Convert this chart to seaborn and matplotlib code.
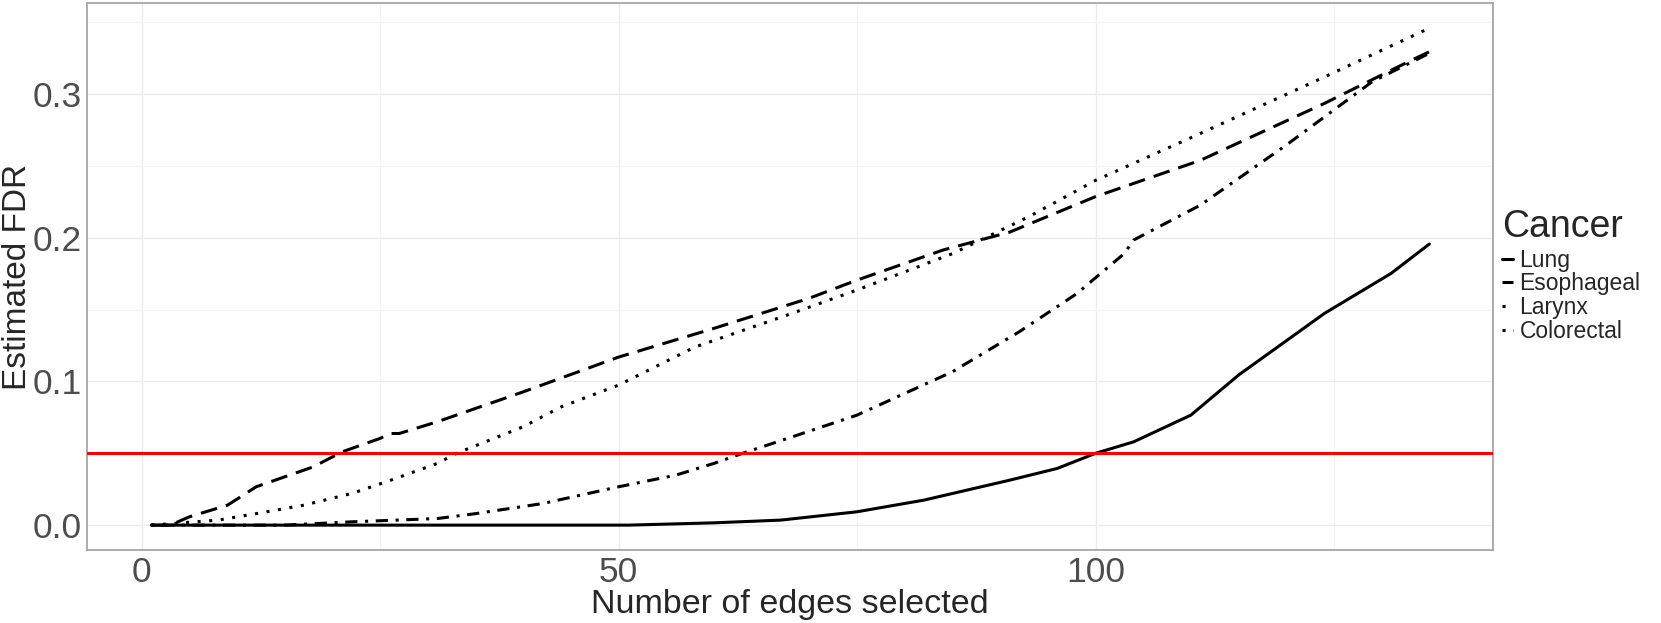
import pandas as pd
import matplotlib
matplotlib.use("Agg")
import matplotlib.pyplot as plt
from matplotlib.lines import Line2D
import seaborn as sns

# ----------------------------
# Data
# ----------------------------
cancers = ["Lung", "Esophageal", "Larynx", "Colorectal"]

lung_x = [1, 51, 60, 67, 75, 82, 91, 96, 100, 104, 110, 115, 124, 131, 135]
lung_y = [0.0, 0.0, 0.0016, 0.0035, 0.0093, 0.0174, 0.0313, 0.0395, 0.050, 0.058,
          0.0766, 0.1045, 0.1474, 0.1753, 0.1957]

eso_x = [1, 3, 5, 9, 12, 18, 21, 25, 26, 27, 31, 40, 50, 60, 70, 75, 84, 91, 100,
         111, 124, 132, 135]
eso_y = [0.0, 0.0, 0.0058, 0.0139, 0.0267, 0.0406, 0.051, 0.0604, 0.0638, 0.0638,
         0.072, 0.0928, 0.117, 0.137, 0.158, 0.1706, 0.1915, 0.204, 0.2287,
         0.254, 0.2936, 0.320, 0.3296]

lar_x = [1, 8, 12, 17, 22, 26, 31, 33, 40, 44, 50, 58, 68, 75, 85, 93, 100, 111,
         124, 135]
lar_y = [0.0, 0.0035, 0.008, 0.0139, 0.022, 0.031, 0.043, 0.050, 0.0685, 0.0824,
         0.0975, 0.124, 0.147, 0.1637, 0.189, 0.2147, 0.240, 0.2727, 0.312, 0.346]

col_x = [1, 15, 22, 31, 35, 42, 50, 56, 60, 63, 68, 75, 85, 92, 98, 103, 104,
         111, 120, 129, 135]
col_y = [0.0, 0.0, 0.0023, 0.0046, 0.008, 0.015, 0.0267, 0.0348, 0.043, 0.050,
         0.061, 0.0766, 0.1068, 0.1346, 0.161, 0.189, 0.1985, 0.2228, 0.2646,
         0.3087, 0.3285]

fdr_cutoff = 0.05

df = pd.concat([
    pd.DataFrame({"edges": lung_x, "fdr": lung_y, "Cancer": "Lung"}),
    pd.DataFrame({"edges": eso_x, "fdr": eso_y, "Cancer": "Esophageal"}),
    pd.DataFrame({"edges": lar_x, "fdr": lar_y, "Cancer": "Larynx"}),
    pd.DataFrame({"edges": col_x, "fdr": col_y, "Cancer": "Colorectal"}),
], ignore_index=True)

# ----------------------------
# Plot
# ----------------------------
sns.set_style("white")
plt.rcParams["font.family"] = ["Liberation Sans", "DejaVu Sans"]

lw = 2.2
dash_map = {
    "Lung": "",
    "Esophageal": (5.5, 3),
    "Larynx": (1, 2.8),
    "Colorectal": (1, 2.5, 4, 2.5),
}

fig = plt.figure(figsize=(16.61, 6.23), dpi=100)
ax = fig.add_axes([0.0526, 0.1172, 0.8464, 0.8775])

sns.lineplot(data=df, x="edges", y="fdr", style="Cancer", style_order=cancers,
             dashes=dash_map, color="black", linewidth=lw, legend=False,
             sort=False, estimator=None, ax=ax)
ax.axhline(fdr_cutoff, color="#ff0000", linewidth=lw, zorder=5)

# ggplot-like 5% expansion
xmin, xmax = df["edges"].min(), df["edges"].max()
ymin, ymax = df["fdr"].min(), df["fdr"].max()
ax.set_xlim(xmin - 0.05 * (xmax - xmin), xmax + 0.05 * (xmax - xmin))
ax.set_ylim(ymin - 0.05 * (ymax - ymin), ymax + 0.05 * (ymax - ymin))

ax.set_xticks([0, 50, 100])
ax.set_xticks([25, 75, 125], minor=True)
ax.set_yticks([0.0, 0.1, 0.2, 0.3])
ax.set_yticklabels(["0.0", "0.1", "0.2", "0.3"])
ax.set_yticks([0.05, 0.15, 0.25, 0.35], minor=True)
ax.grid(which="major", color="#ebebeb", linewidth=1.0)
ax.grid(which="minor", color="#f4f4f4", linewidth=0.8)
ax.set_axisbelow(True)
ax.tick_params(axis="both", which="major", labelsize=25.5, labelcolor="#4d4d4d",
               color="#4d4d4d", length=3, width=0.8, direction="out", pad=1)
ax.tick_params(axis="both", which="minor", length=0)
for s in ax.spines.values():
    s.set_color("#a6a6a6")
    s.set_linewidth(1.3)

ax.set_xlabel("Number of edges selected", fontsize=24.5)
ax.set_ylabel("Estimated FDR", fontsize=24)
ax.xaxis.set_label_coords(0.5, -0.1)
ax.xaxis.label.set_verticalalignment("center")
ax.yaxis.set_label_coords(-0.0495, 0.5)
ax.yaxis.label.set_verticalalignment("center")

handles = [Line2D([], [], color="black", linewidth=lw,
                  linestyle=(0, dash_map[c]) if dash_map[c] else "-")
           for c in cancers]
leg = fig.legend(handles, cancers, title="Cancer", loc="upper left",
                 bbox_to_anchor=(0.899, 0.68), frameon=False,
                 fontsize=16.5, title_fontsize=27, handlelength=0.45,
                 handletextpad=0.3, labelspacing=0.03, borderaxespad=0)
leg._legend_box.align = "left"
leg._legend_box.sep = 3

plt.savefig("out.png", dpi=100)
